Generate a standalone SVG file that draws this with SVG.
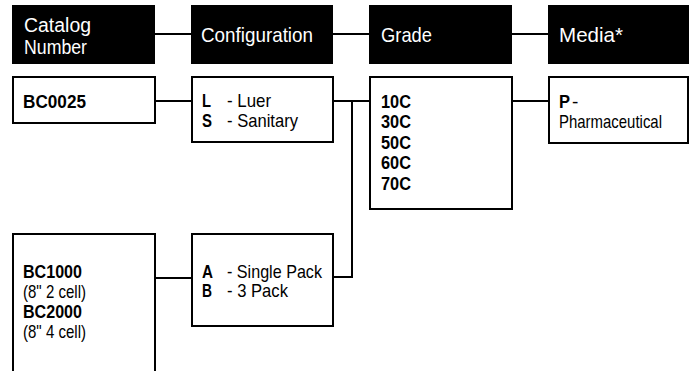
<svg xmlns="http://www.w3.org/2000/svg" width="689" height="371" viewBox="0 0 689 371">
<style>
.hdr{fill:#000;}
.box{fill:#fff;stroke:#000;stroke-width:2;}
.ht{font-family:"Liberation Sans",Arial,sans-serif;font-size:21px;fill:#fff;}
.ht2{font-family:"Liberation Sans",Arial,sans-serif;font-size:20px;fill:#fff;}
.b{font-family:"Liberation Sans",Arial,sans-serif;font-size:19px;font-weight:bold;fill:#000;}
.t{font-family:"Liberation Sans",Arial,sans-serif;font-size:19px;fill:#000;}
.ln{fill:none;stroke:#000;stroke-width:2;}
</style>
<rect width="689" height="371" fill="#fff"/>
<g id="connectors">
<line class="ln" x1="155" y1="34" x2="191" y2="34"/>
<line class="ln" x1="333" y1="34" x2="369" y2="34"/>
<line class="ln" x1="512" y1="34" x2="548" y2="34"/>
<line class="ln" x1="155" y1="101" x2="191" y2="101"/>
<line class="ln" x1="333" y1="101" x2="369" y2="101"/>
<line class="ln" x1="512" y1="101" x2="548" y2="101"/>
<line class="ln" x1="155" y1="278" x2="191" y2="278"/>
<polyline class="ln" points="333,277 352,277 352,101"/>
</g>
<g id="hdr-catalog">
<rect class="hdr" x="12" y="5" width="143" height="59"/>
<text class="ht2" x="24" y="32" textLength="67" lengthAdjust="spacingAndGlyphs">Catalog</text>
<text class="ht2" x="24" y="54" textLength="63" lengthAdjust="spacingAndGlyphs">Number</text>
</g>
<g id="hdr-config">
<rect class="hdr" x="191" y="5" width="142" height="59"/>
<text class="ht" x="201" y="42" textLength="112" lengthAdjust="spacingAndGlyphs">Configuration</text>
</g>
<g id="hdr-grade">
<rect class="hdr" x="369" y="5" width="143" height="59"/>
<text class="ht" x="381" y="42" textLength="51" lengthAdjust="spacingAndGlyphs">Grade</text>
</g>
<g id="hdr-media">
<rect class="hdr" x="548" y="5" width="141" height="59"/>
<text class="ht" x="559" y="42" textLength="64" lengthAdjust="spacingAndGlyphs">Media*</text>
</g>
<g id="bc0025">
<rect class="box" x="13" y="77" width="142" height="46"/>
<text class="b" x="23" y="108" textLength="63" lengthAdjust="spacingAndGlyphs">BC0025</text>
</g>
<g id="config-ls">
<rect class="box" x="192" y="77" width="141" height="65"/>
<text class="b" x="202" y="107" textLength="9" lengthAdjust="spacingAndGlyphs">L</text>
<text class="t" x="227" y="107" textLength="44" lengthAdjust="spacingAndGlyphs">- Luer</text>
<text class="b" x="202" y="127" textLength="10" lengthAdjust="spacingAndGlyphs">S</text>
<text class="t" x="227" y="127" textLength="71" lengthAdjust="spacingAndGlyphs">- Sanitary</text>
</g>
<g id="grade">
<rect class="box" x="370" y="77" width="142" height="132"/>
<text class="b" x="381" y="108" textLength="30" lengthAdjust="spacingAndGlyphs">10C</text>
<text class="b" x="381" y="128" textLength="30" lengthAdjust="spacingAndGlyphs">30C</text>
<text class="b" x="381" y="149" textLength="30" lengthAdjust="spacingAndGlyphs">50C</text>
<text class="b" x="381" y="169" textLength="30" lengthAdjust="spacingAndGlyphs">60C</text>
<text class="b" x="381" y="190" textLength="30" lengthAdjust="spacingAndGlyphs">70C</text>
</g>
<g id="media">
<rect class="box" x="549" y="77" width="139" height="66"/>
<text class="b" x="559" y="108" textLength="11" lengthAdjust="spacingAndGlyphs">P</text>
<text class="t" x="572" y="108">-</text>
<text class="t" x="559" y="128" textLength="103" lengthAdjust="spacingAndGlyphs">Pharmaceutical</text>
</g>
<g id="bc1000">
<polyline class="box" points="13,371 13,234 155,234 155,371"/>
<text class="b" x="23" y="278" textLength="59" lengthAdjust="spacingAndGlyphs">BC1000</text>
<text class="t" x="23" y="298" textLength="63" lengthAdjust="spacingAndGlyphs">(8" 2 cell)</text>
<text class="b" x="23" y="318" textLength="59" lengthAdjust="spacingAndGlyphs">BC2000</text>
<text class="t" x="23" y="338" textLength="63" lengthAdjust="spacingAndGlyphs">(8" 4 cell)</text>
</g>
<g id="config-ab">
<rect class="box" x="192" y="234" width="141" height="92"/>
<text class="b" x="202" y="278" textLength="11" lengthAdjust="spacingAndGlyphs">A</text>
<text class="t" x="227" y="278" textLength="95" lengthAdjust="spacingAndGlyphs">- Single Pack</text>
<text class="b" x="202" y="297" textLength="10" lengthAdjust="spacingAndGlyphs">B</text>
<text class="t" x="227" y="297" textLength="61" lengthAdjust="spacingAndGlyphs">- 3 Pack</text>
</g>
</svg>
